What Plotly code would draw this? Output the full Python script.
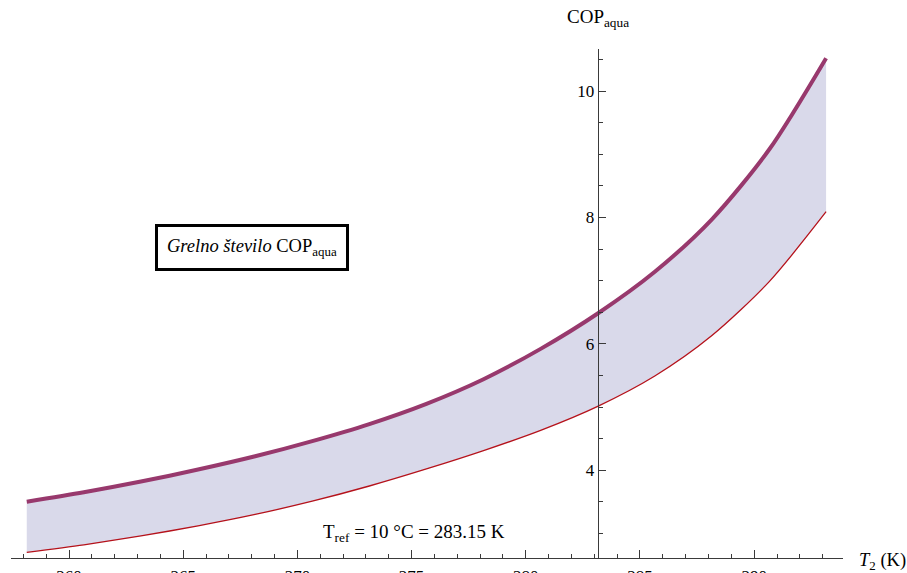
import plotly.graph_objects as go

# Outdoor temperature T2 (K) and heating COP readings (every 2.5 K from -15 °C)
t2 = [258.15, 260.65, 263.15, 265.65, 268.15, 270.65, 273.15, 275.65,
      278.15, 280.65, 283.15, 285.65, 288.15, 290.65, 293.15]
cop_ideal = [3.50, 3.65, 3.82, 4.01, 4.22, 4.46, 4.73, 5.05,
             5.44, 5.92, 6.48, 7.14, 7.97, 9.07, 10.52]
cop_real = [2.70, 2.82, 2.96, 3.12, 3.30, 3.51, 3.75, 4.02,
            4.31, 4.63, 5.01, 5.49, 6.13, 6.98, 8.09]

t_ref = 283.15
x_ticks = [260, 265, 270, 275, 280, 285, 290]
y_ticks = [4, 6, 8, 10]

x_range = [257.46, 293.89]
y_range = [2.606, 10.66]
x_dom = [11 / 907, 843 / 907]
y_dom = [(573 - 558.3) / 573, (573 - 49.3) / 573]

serif = "Times New Roman, Liberation Serif, Times, serif"
axis_col = "#3a3a3a"

fig = go.Figure()
fig.add_trace(go.Scatter(x=t2, y=cop_real, mode="lines",
                         line=dict(color="#b5121b", width=1.3, shape="spline", smoothing=0.8),
                         hoverinfo="skip", showlegend=False))
fig.add_trace(go.Scatter(x=t2, y=cop_ideal, mode="lines", fill="tonexty",
                         fillcolor="#d9d9ea",
                         line=dict(color="#98396d", width=4, shape="spline", smoothing=0.8),
                         hoverinfo="skip", showlegend=False))

# y axis crosses the x axis at T_ref
y_axis_pos = x_dom[0] + (t_ref - x_range[0]) / (x_range[1] - x_range[0]) * (x_dom[1] - x_dom[0])

fig.update_layout(
    width=907, height=573,
    margin=dict(l=0, r=0, t=0, b=0),
    paper_bgcolor="white", plot_bgcolor="white",
    font=dict(family=serif, size=17, color="black"),
    xaxis=dict(range=x_range, domain=x_dom, anchor="y", automargin=False,
               showgrid=False, zeroline=False,
               showline=True, linecolor=axis_col, linewidth=1,
               tickmode="array", tickvals=x_ticks,
               ticks="inside", ticklen=8, tickcolor=axis_col,
               ticklabelstandoff=2,
               minor=dict(dtick=1, tick0=260, ticks="inside", ticklen=4,
                          tickcolor=axis_col, showgrid=False),
               tickfont=dict(family=serif, size=17)),
    yaxis=dict(range=y_range, domain=y_dom, anchor="free", automargin=False,
               position=y_axis_pos, side="left",
               showgrid=False, zeroline=False,
               showline=True, linecolor=axis_col, linewidth=1,
               tickmode="array", tickvals=y_ticks,
               ticks="inside", ticklen=7, tickcolor=axis_col,
               minor=dict(dtick=0.5, tick0=0, ticks="inside", ticklen=4,
                          tickcolor=axis_col, showgrid=False),
               tickfont=dict(family=serif, size=17)),
)

fig.add_annotation(x=y_axis_pos, y=1 - 18 / 573, xref="paper", yref="paper",
                   xanchor="center", yanchor="middle",
                   text="COP<sub>aqua</sub>", showarrow=False,
                   font=dict(family=serif, size=19))
fig.add_annotation(x=882 / 907, y=1 - 561 / 573, xref="paper", yref="paper",
                   xanchor="center", yanchor="middle",
                   text="<i>T</i><sub>2</sub> (K)", showarrow=False,
                   font=dict(family=serif, size=18.5))
fig.add_annotation(x=252 / 907, y=1 - 247 / 573, xref="paper", yref="paper",
                   xanchor="center", yanchor="middle",
                   text="<i>Grelno število</i> COP<sub>aqua</sub>",
                   showarrow=False, bordercolor="black", borderwidth=3,
                   borderpad=9, bgcolor="white",
                   font=dict(family=serif, size=18.5))
fig.add_annotation(x=414 / 907, y=1 - 533 / 573, xref="paper", yref="paper",
                   xanchor="center", yanchor="middle",
                   text="T<sub>ref</sub> = 10 °C = 283.15 K", showarrow=False,
                   font=dict(family=serif, size=19))

fig.write_html("out.html")
